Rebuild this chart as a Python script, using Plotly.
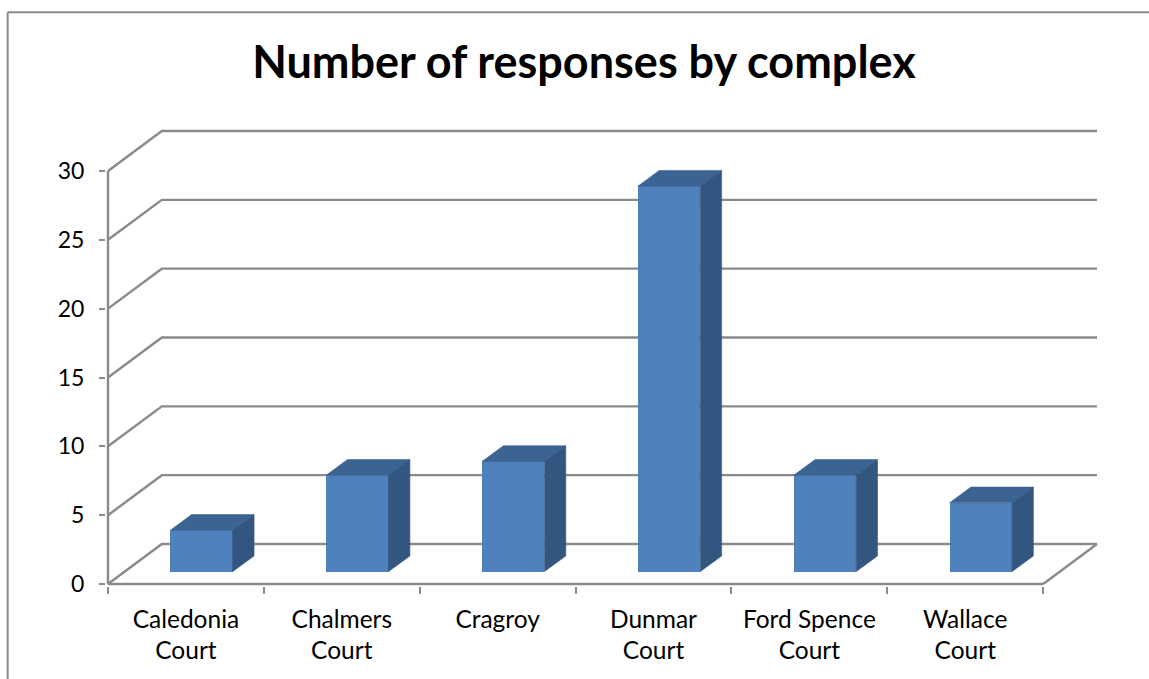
import plotly.graph_objects as go

categories = ["Caledonia<br>Court", "Chalmers<br>Court", "Cragroy", "Dunmar<br>Court", "Ford Spence<br>Court", "Wallace<br>Court"]
responses = [3, 7, 8, 28, 7, 5]
y_ticks = [0, 5, 10, 15, 20, 25, 30]

W, H = 1149, 679
PAD = 2.0
SX, SY = 155.8, 13.77
L, R, T, B = 108.3 - PAD, 1096.8 + PAD, 130.5 - PAD, 584.0 + PAD
WALL_DX = 53.8 / SX
WALL_DY = 40.0 / SY
X_MIN, X_MAX = -PAD / SX, 6 + WALL_DX + PAD / SX
Y_MIN, Y_MAX = -PAD / SY, 30 + WALL_DY + PAD / SY
BAR_LIFT = 12.4 / SY
BAR_SHIFT = 0.1
BAR_W = 62.4 / SX
BAR_DX = 21.3 / SX
BAR_DY = 15.7 / SY

GREY = "#8A8A8A"
FRONT = "#4F81BD"
SIDE = "#335680"
TOP = "#3C6493"
FONT = "Lato, Carlito, Calibri, sans-serif"

fig = go.Figure()

gx, gy = [], []
for v in y_ticks:
    gx += [0, WALL_DX, 6 + WALL_DX, None]
    gy += [v, v + WALL_DY, v + WALL_DY, None]
gx += [6, 6 + WALL_DX, None, 0, 6, None, 0, 0]
gy += [0, WALL_DY, None, 0, 0, None, 0, 30]
fig.add_trace(go.Scatter(x=gx, y=gy, mode="lines", line=dict(color=GREY, width=2.4),
                         hoverinfo="skip", showlegend=False))

centers = [i + 0.5 + BAR_SHIFT for i in range(len(responses))]

fig.add_trace(go.Bar(x=centers, y=responses, base=BAR_LIFT, width=BAR_W,
                     marker=dict(color=FRONT, line=dict(width=0)),
                     xaxis="x2", yaxis="y2", showlegend=False))

for c, v in zip(centers, responses):
    l, r = c - BAR_W / 2, c + BAR_W / 2
    b, t = BAR_LIFT, BAR_LIFT + v
    fig.add_trace(go.Scatter(x=[l, l + BAR_DX, r + BAR_DX, r, l],
                             y=[t, t + BAR_DY, t + BAR_DY, t, t],
                             mode="lines", fill="toself", fillcolor=TOP,
                             line=dict(width=0.6, color=TOP),
                             xaxis="x2", yaxis="y2", showlegend=False, hoverinfo="skip"))
    fig.add_trace(go.Scatter(x=[r, r + BAR_DX, r + BAR_DX, r, r],
                             y=[b, b + BAR_DY, t + BAR_DY, t, b],
                             mode="lines", fill="toself", fillcolor=SIDE,
                             line=dict(width=0.6, color=SIDE),
                             xaxis="x2", yaxis="y2", showlegend=False, hoverinfo="skip"))

fig.update_layout(
    width=W, height=H,
    margin=dict(l=L, r=W - R, t=T, b=H - B, pad=0),
    paper_bgcolor="white", plot_bgcolor="white",
    font=dict(family=FONT, color="black", size=24.5),
    title=dict(text="<b>Number of responses by complex</b>", x=584 / W, xanchor="center",
               y=1 - 62 / H, yanchor="middle", font=dict(family=FONT, size=45, color="black")),
    xaxis=dict(range=[X_MIN, X_MAX], showgrid=False, zeroline=False, showline=False,
               tickmode="array", tickvals=[i + 0.5 for i in range(len(categories))],
               ticktext=categories, ticks="", ticklabelstandoff=16,
               minor=dict(tickmode="array", tickvals=list(range(7)), ticks="outside",
                          ticklen=7, tickwidth=2, tickcolor=GREY, showgrid=False)),
    yaxis=dict(range=[Y_MIN, Y_MAX], showgrid=False, zeroline=False, showline=False,
               tickmode="array", tickvals=y_ticks, ticks="outside", ticklen=6, tickwidth=2,
               tickcolor=GREY, ticklabelstandoff=10, tickfont=dict(size=23)),
    xaxis2=dict(range=[X_MIN, X_MAX], overlaying="x", visible=False, anchor="y2"),
    yaxis2=dict(range=[Y_MIN, Y_MAX], overlaying="y", visible=False, anchor="x2"),
    bargap=0,
    shapes=[dict(type="line", xref="paper", yref="paper",
                 x0=(8 - L) / (R - L), x1=(8 - L) / (R - L),
                 y0=(B - 679) / (B - T), y1=(B - 11.5) / (B - T),
                 line=dict(color=GREY, width=2)),
            dict(type="line", xref="paper", yref="paper",
                 x0=(8 - L) / (R - L), x1=(1149 - L) / (R - L),
                 y0=(B - 11.5) / (B - T), y1=(B - 11.5) / (B - T),
                 line=dict(color=GREY, width=2))],
)

fig.write_html("out.html", post_script="document.body.style.margin='0';",
               config=dict(displayModeBar=False))
